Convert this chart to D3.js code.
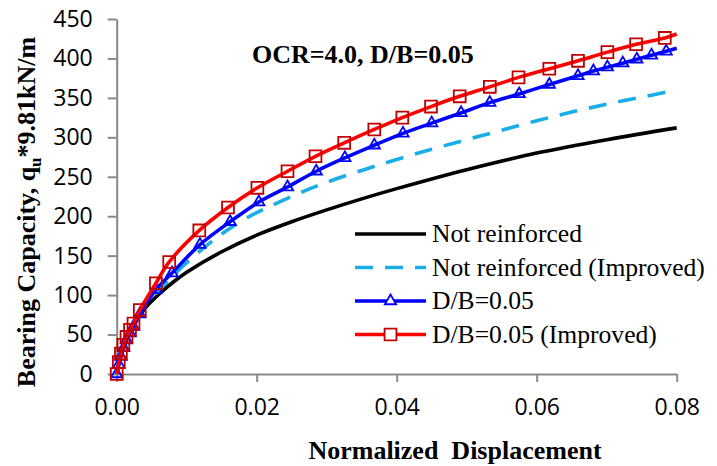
<!DOCTYPE html>
<html lang="en">
<head>
<meta charset="UTF-8">
<script src="https://cdnjs.cloudflare.com/ajax/libs/d3/7.8.5/d3.min.js"></script>
<style>
    body { margin: 0; background: #fff; }
    .tick text { font-family: "Open Sans", sans-serif; font-size: 23px; fill: #000; }
    .domain, .tick line { stroke: #898989; stroke-width: 2; }
</style>
</head>
<body>
<svg id="chart" width="717" height="466"></svg>
<script>
    // values (normalized displacement, q)
    var plainD = [0, 0.0005, 0.001, 0.002, 0.003, 0.004, 0.006, 0.008, 0.01, 0.015, 0.02, 0.025, 0.03, 0.035, 0.04, 0.05, 0.06, 0.07, 0.08];
    var plainQ = [0, 20, 35, 55, 70, 83, 101, 116, 129, 155, 176, 193, 208, 222, 235, 259, 280, 297, 312];

    var plainImpD = [0, 0.0005, 0.001, 0.002, 0.003, 0.004, 0.006, 0.008, 0.01, 0.014, 0.018, 0.022, 0.026, 0.03, 0.035, 0.04, 0.045, 0.05, 0.055, 0.06, 0.065, 0.07, 0.075, 0.08];
    var plainImpQ = [0, 20, 35, 58, 74, 88, 106, 124, 141, 171, 195, 213, 229, 243, 258, 272, 285, 297, 309, 321, 332, 342, 351, 360];

    var reinfD = [0, 0.0003, 0.0006, 0.001, 0.0014, 0.0019, 0.0024, 0.0033, 0.0056, 0.0079, 0.0119, 0.0162, 0.0203, 0.0244, 0.0285, 0.0326, 0.0368, 0.0409, 0.045, 0.0492, 0.0533, 0.0575, 0.0618, 0.0659, 0.0681, 0.0701, 0.0723, 0.0743, 0.0764, 0.0785, 0.08];
    var reinfQ = [0, 12, 22, 33, 43, 52, 60, 76, 107, 128, 164, 193, 218, 237, 257, 274, 290, 305, 318, 331, 344, 355, 367, 378, 384, 389, 394, 399, 404, 409, 413];

    var reinfImpD = [0, 0.0003, 0.0006, 0.00095, 0.0014, 0.0019, 0.0024, 0.0033, 0.0056, 0.0075, 0.0118, 0.0159, 0.0201, 0.0244, 0.0284, 0.0325, 0.0368, 0.0408, 0.0449, 0.049, 0.0533, 0.0574, 0.0618, 0.0659, 0.0701, 0.0742, 0.0783, 0.08];
    var reinfImpQ = [0, 15, 26, 37, 47, 56, 64, 81, 115, 142, 182, 211, 236, 257, 276, 293, 310, 325, 339, 352, 364, 376, 387, 397, 408, 418, 426, 431];

    var xTicks = [0, 0.02, 0.04, 0.06, 0.08];
    var yTicks = [0, 50, 100, 150, 200, 250, 300, 350, 400, 450];
    var legendNames = ['Not reinforced', 'Not reinforced (Improved)', 'D/B=0.05', 'D/B=0.05 (Improved)'];

    var svg = d3.select('#chart');
    var x = d3.scaleLinear().domain([0, 0.08]).range([116.7, 676.7]);
    var y = d3.scaleLinear().domain([0, 450]).range([374, 19]);

    svg.append('g')
        .attr('transform', 'translate(116.7,0)')
        .call(d3.axisLeft(y).tickValues(yTicks).tickSize(9).tickSizeOuter(0).tickPadding(15).tickFormat(d3.format('d')));
    svg.append('g')
        .attr('transform', 'translate(0,374)')
        .call(d3.axisBottom(x).tickValues(xTicks).tickSize(8).tickSizeOuter(0).tickPadding(17).tickFormat(d3.format('.2f')));

    function zip(ds, qs) {
        return ds.map(function(d, i) { return [d, qs[i]]; });
    }

    var line = d3.line()
        .x(function(d) { return x(d[0]); })
        .y(function(d) { return y(d[1]); })
        .curve(d3.curveCatmullRom.alpha(0.5));

    var series = [
        {pts: zip(plainD, plainQ), color: '#000000', dash: null, marker: null},
        {pts: zip(plainImpD, plainImpQ), color: '#1aaee8', dash: '18,12', marker: null},
        {pts: zip(reinfD, reinfQ), color: '#0000ff', dash: null, marker: 'tri', mcolor: '#0000ff'},
        {pts: zip(reinfImpD, reinfImpQ), color: '#ff0000', dash: null, marker: 'sq', mcolor: '#c00000'}
    ];

    var triPath = d3.symbol().type(d3.symbolTriangle).size(55)();
    var sqPath = d3.symbol().type(d3.symbolSquare).size(140)();

    series.forEach(function(s) {
        svg.append('path')
            .attr('d', line(s.pts))
            .attr('fill', 'none')
            .attr('stroke', s.color)
            .attr('stroke-width', 3.6)
            .attr('stroke-dasharray', s.dash);
        if (!s.marker) return;
        // the last point only ends the line, no marker there
        svg.append('g').selectAll('path')
            .data(s.pts.slice(0, -1))
            .enter().append('path')
            .attr('transform', function(d) { return 'translate(' + x(d[0]) + ',' + y(d[1]) + ')'; })
            .attr('d', s.marker === 'tri' ? triPath : sqPath)
            .attr('fill', 'none')
            .attr('stroke', s.mcolor)
            .attr('stroke-width', 1.8);
    });

    // legend
    var legend = svg.append('g');
    series.forEach(function(s, i) {
        var ly = 234 + i * 33.5;
        legend.append('line')
            .attr('x1', 355).attr('x2', 426).attr('y1', ly).attr('y2', ly)
            .attr('stroke', s.color).attr('stroke-width', 3.6)
            .attr('stroke-dasharray', s.dash);
        if (s.marker) {
            legend.append('path')
                .attr('transform', 'translate(390.5,' + ly + ')')
                .attr('d', s.marker === 'tri' ? triPath : sqPath)
                .attr('fill', '#fff')
                .attr('stroke', s.mcolor)
                .attr('stroke-width', 1.8);
        }
        legend.append('text')
            .attr('x', 432).attr('y', ly + 8)
            .style('font-family', '"Liberation Serif", serif')
            .style('font-size', '25.6px')
            .text(legendNames[i]);
    });

    svg.append('text')
        .attr('x', 252).attr('y', 63)
        .style('font-family', '"Liberation Serif", serif')
        .style('font-size', '26px')
        .style('font-weight', 'bold')
        .text('OCR=4.0, D/B=0.05');

    svg.append('text')
        .attr('x', 455).attr('y', 459)
        .attr('text-anchor', 'middle')
        .style('font-family', '"Liberation Serif", serif')
        .style('font-size', '26px')
        .style('font-weight', 'bold')
        .style('white-space', 'pre')
        .text('Normalized  Displacement');

    var yl = svg.append('text')
        .attr('transform', 'translate(35,212) rotate(-90)')
        .attr('text-anchor', 'middle')
        .style('font-family', '"Liberation Serif", serif')
        .style('font-size', '26px')
        .style('font-weight', 'bold');
    yl.append('tspan').text('Bearing Capacity, q');
    yl.append('tspan').attr('dy', 6).style('font-size', '17px').text('u');
    yl.append('tspan').attr('dy', -6).text('*9.81kN/m');
</script>
</body>
</html>
